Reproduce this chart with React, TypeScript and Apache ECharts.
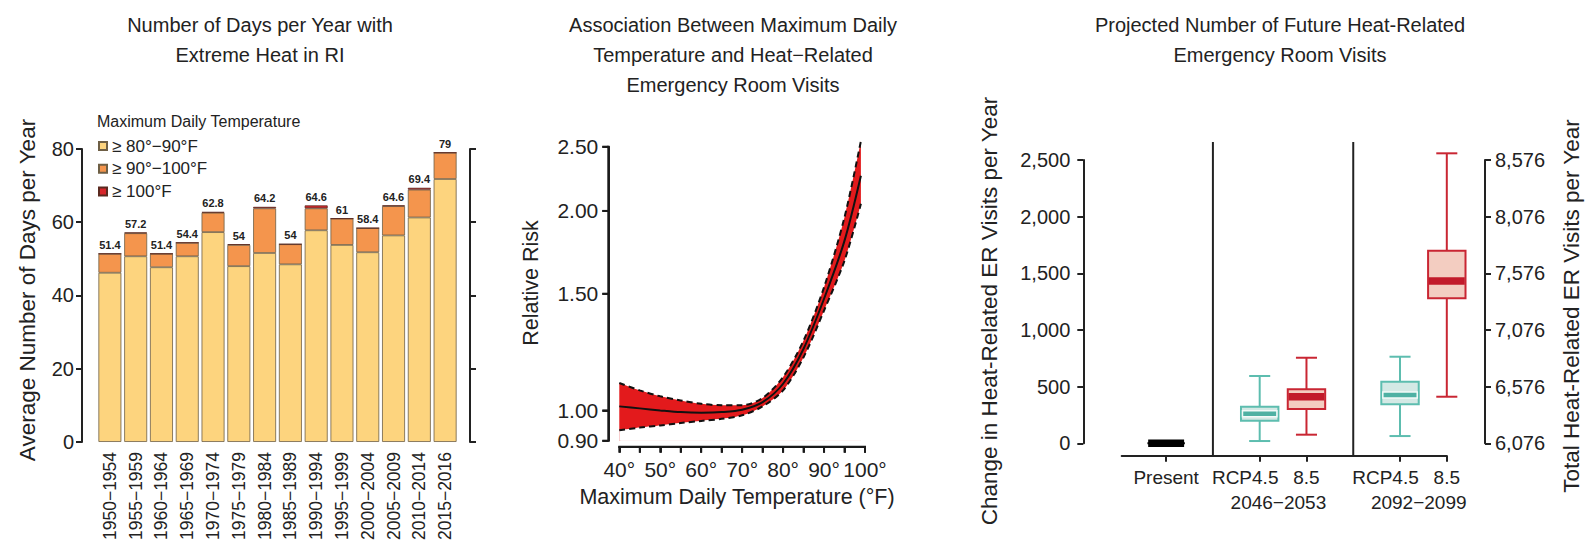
import React, { useEffect, useRef } from 'react';
import * as echarts from 'echarts';

const FONT = '"Liberation Sans", Arial, Helvetica, sans-serif';
const INK = '#222222';

// ---------- Panel 1: days per year with extreme heat ----------
const periods = [
  '1950−1954', '1955−1959', '1960−1964', '1965−1969', '1970−1974', '1975−1979', '1980−1984',
  '1985−1989', '1990−1994', '1995−1999', '2000−2004', '2005−2009', '2010−2014', '2015−2016',
];
const days80to90 = [46.2, 50.7, 47.7, 50.7, 57.3, 48.0, 51.6, 48.5, 57.8, 53.8, 51.8, 56.4, 61.3, 71.8];
const days90to100 = [5.2, 6.3, 3.7, 3.7, 5.3, 5.8, 12.2, 5.5, 6.0, 7.2, 6.6, 8.0, 7.6, 7.2];
const days100plus = [0, 0.2, 0, 0, 0.2, 0.2, 0.4, 0, 0.8, 0, 0, 0.2, 0.5, 0];
const totalLabels = ['51.4', '57.2', '51.4', '54.4', '62.8', '54', '64.2', '54', '64.6', '61', '58.4', '64.6', '69.4', '79'];
const legendNames = ['≥ 80°−90°F', '≥ 90°−100°F', '≥ 100°F'];

// ---------- Panel 2: relative risk vs max daily temperature ----------
const temps = [40, 45, 50, 55, 60, 65, 70, 75, 80, 85, 90, 95, 99];
const rrCenter = [1.014, 1.007, 1.0, 0.994, 0.992, 0.994, 1.002, 1.029, 1.097, 1.239, 1.474, 1.804, 2.26];
const rrUpper = [1.10, 1.072, 1.05, 1.035, 1.023, 1.018, 1.018, 1.044, 1.123, 1.275, 1.534, 1.957, 2.55];
const rrLower = [0.933, 0.942, 0.949, 0.957, 0.964, 0.971, 0.983, 1.014, 1.072, 1.203, 1.415, 1.683, 2.05];
const rrTicks = [0.9, 1.0, 1.5, 2.0, 2.5];
const tempTicks = [40, 45, 50, 55, 60, 65, 70, 75, 80, 85, 90, 95, 100];
const tempTickLabels = [40, 50, 60, 70, 80, 90, 100];

// ---------- Panel 3: projected ER visits ----------
const boxLabels = ['Present', 'RCP4.5', '8.5', 'RCP4.5', '8.5'];
const boxX = [0, 2, 3, 5, 6];
const boxScenario = ['present', 'rcp45', 'rcp85', 'rcp45', 'rcp85'];
const boxMin = [0, 20, 76, 64, 411];
const boxQ1 = [0, 200, 303, 344, 1279];
const boxMedian = [0, 261, 411, 426, 1432];
const boxQ3 = [0, 323, 476, 544, 1700];
const boxMax = [0, 594, 755, 764, 2559];
const periodLabels = ['2046−2053', '2092−2099'];
const periodLabelX = [2.4, 5.4];
const periodDividers = [1, 4];
const rightTickLabels = ['6,076', '6,576', '7,076', '7,576', '8,076', '8,576'];

const boxStyles: Record<string, any> = {
  present: { stroke: '#000000', fill: '#000000', median: '#000000', medianEdge: '#000000' },
  rcp45: { stroke: '#5dbdaf', fill: '#d4e9e5', median: '#4fb1a3', medianEdge: '#f2faf8' },
  rcp85: { stroke: '#c92633', fill: '#f3cdc1', median: '#c21b2b', medianEdge: '#c21b2b' },
};

const RR_MIN = Math.log(rrTicks[0]);
const RR_MAX = Math.log(rrTicks[rrTicks.length - 1]);
const T_MIN = tempTicks[0];
const T_MAX = tempTicks[tempTicks.length - 1];

const mkAxisLine = () => ({ show: true, onZero: false, lineStyle: { color: INK, width: 2 } });
const mkTick = (extra: any = {}) => ({ show: true, inside: false, length: 6, lineStyle: { color: INK, width: 2 }, ...extra });
const lbl = (size: number, extra: any = {}) => ({ color: INK, fontFamily: FONT, fontSize: size, ...extra });

const vText = (text: string, x: number, y: number, size: number) => ({
  type: 'text',
  x,
  y,
  rotation: Math.PI / 2,
  style: { text, x: 0, y: 0, align: 'center', verticalAlign: 'middle', fontSize: size, fontFamily: FONT, fill: INK },
});
const hText = (text: string, x: number, y: number, size: number, align = 'center') => ({
  type: 'text',
  x,
  y,
  style: { text, x: 0, y: 0, align, verticalAlign: 'middle', fontSize: size, fontFamily: FONT, fill: INK },
});

const baseGraphics = [
  vText('Average Number of Days per Year', 27, 290, 22.5),
  hText('Maximum Daily Temperature', 97, 121, 16, 'left'),
  vText('Relative Risk', 531, 283, 21.5),
  hText('Maximum Daily Temperature (°F)', 737, 497, 21.5),
  vText('Change in Heat-Related ER Visits per Year', 989, 311, 22.5),
  vText('Total Heat-Related ER Visits per Year', 1571, 306, 22.5),
];

function buildOption() {
  const barBase = {
    type: 'bar',
    stack: 'days',
    xAxisIndex: 0,
    yAxisIndex: 0,
    barCategoryGap: '11%',
  };

  const rrLine = (name: string, values: number[], extra: any) => ({
    type: 'line', name, xAxisIndex: 1, yAxisIndex: 2,
    data: temps.map((t, i) => [t, Math.log(values[i])]),
    symbol: 'none', smooth: 0.3, clip: false,
    ...extra,
  });

  return {
    animation: false,
    backgroundColor: '#ffffff',
    textStyle: { fontFamily: FONT },
    title: [
      {
        text: 'Number of Days per Year with\nExtreme Heat in RI',
        left: 255, top: 5, textAlign: 'center',
        textStyle: { fontFamily: FONT, fontSize: 20, fontWeight: 'normal', color: INK, lineHeight: 30 },
      },
      {
        text: 'Association Between Maximum Daily\nTemperature and Heat−Related\nEmergency Room Visits',
        left: 728, top: 5, textAlign: 'center',
        textStyle: { fontFamily: FONT, fontSize: 20, fontWeight: 'normal', color: INK, lineHeight: 30 },
      },
      {
        text: 'Projected Number of Future Heat-Related\nEmergency Room Visits',
        left: 1275, top: 5, textAlign: 'center',
        textStyle: { fontFamily: FONT, fontSize: 20, fontWeight: 'normal', color: INK, lineHeight: 30 },
      },
    ],
    legend: {
      data: legendNames,
      orient: 'vertical',
      left: 98,
      top: 137,
      padding: 0,
      icon: 'rect',
      itemWidth: 8,
      itemHeight: 8,
      itemGap: 4.7,
      itemTextGap: 15,
      selectedMode: false,
      textStyle: { fontFamily: FONT, fontSize: 17, color: INK, lineHeight: 18 },
    },
    grid: [
      { left: 97, top: 149, width: 361, height: 301 },
      { left: 619.3, top: 146.7, width: 245.7, height: 294 },
      { left: 1121.7, top: 160, width: 325.1, height: 283.3 },
    ],
    xAxis: [
      {
        type: 'category', gridIndex: 0, data: periods, position: 'bottom',
        axisLine: { show: false }, axisTick: { show: false },
        axisLabel: lbl(17.5, { rotate: 90, interval: 0, margin: 10 }),
      },
      {
        type: 'value', gridIndex: 1, min: T_MIN, max: T_MAX, interval: 5, offset: 6, position: 'bottom',
        axisLine: mkAxisLine(), axisTick: mkTick(), splitLine: { show: false },
        axisLabel: lbl(21, { margin: 12, customValues: tempTickLabels, formatter: (v: number) => `${v}°` }),
      },
      {
        type: 'value', gridIndex: 2, min: -0.95, max: 6, offset: 12.4, position: 'bottom',
        axisLine: mkAxisLine(), splitLine: { show: false },
        axisTick: mkTick({ customValues: boxX }),
        axisLabel: {
          color: INK, fontFamily: FONT, fontSize: 19, margin: 12, customValues: boxX,
          formatter: (v: number) => {
            const t = boxLabels[boxX.indexOf(v)] ?? '';
            return t.startsWith('RCP') ? `{shift|${t}}` : t;
          },
          rich: { shift: { color: INK, fontFamily: FONT, fontSize: 19, padding: [0, 29, 0, 0] } },
        },
      },
      {
        type: 'value', gridIndex: 2, min: -0.95, max: 6, offset: 12.4, position: 'bottom',
        axisLine: { show: false }, axisTick: { show: false }, splitLine: { show: false },
        axisLabel: {
          color: INK, fontFamily: FONT, fontSize: 19, margin: 37, customValues: periodLabelX,
          formatter: (v: number) => periodLabels[periodLabelX.indexOf(v)] ?? '',
        },
      },
    ],
    yAxis: [
      {
        type: 'value', gridIndex: 0, min: 0, max: 80, interval: 20, offset: 15, position: 'left',
        axisLine: mkAxisLine(), axisTick: mkTick(), splitLine: { show: false },
        axisLabel: lbl(20, { margin: 8 }),
      },
      {
        type: 'value', gridIndex: 0, min: 0, max: 80, interval: 20, offset: 12, position: 'right',
        axisLine: mkAxisLine(), axisTick: mkTick(), splitLine: { show: false },
        axisLabel: { show: false },
      },
      {
        type: 'value', gridIndex: 1, min: RR_MIN, max: RR_MAX, offset: 11, position: 'left',
        axisLine: mkAxisLine(), splitLine: { show: false },
        axisTick: mkTick({ customValues: rrTicks.map((v) => Math.log(v)) }),
        axisLabel: lbl(21, {
          margin: 10, customValues: rrTicks.map((v) => Math.log(v)),
          formatter: (v: number) => Math.exp(v).toFixed(2),
        }),
      },
      {
        type: 'value', gridIndex: 2, min: 0, max: 2500, interval: 500, offset: 38.4, position: 'left',
        axisLine: mkAxisLine(), axisTick: mkTick(), splitLine: { show: false },
        axisLabel: lbl(20, { margin: 13, formatter: (v: number) => v.toLocaleString('en-US') }),
      },
      {
        type: 'value', gridIndex: 2, min: 0, max: 2500, interval: 500, offset: 38.2, position: 'right',
        axisLine: mkAxisLine(), axisTick: mkTick(), splitLine: { show: false },
        axisLabel: lbl(20, { margin: 10, formatter: (v: number) => rightTickLabels[Math.round(v / 500)] }),
      },
    ],
    series: [
      {
        ...barBase, name: legendNames[0], data: days80to90,
        itemStyle: { color: '#fdd47e', borderColor: '#6e5f45', borderWidth: 0.8 },
      },
      {
        ...barBase, name: legendNames[1], data: days90to100,
        itemStyle: { color: '#f4954d', borderColor: '#6e5f45', borderWidth: 0.8 },
      },
      {
        ...barBase, name: legendNames[2], data: days100plus,
        itemStyle: { color: '#d7262b', borderColor: '#5a2a20', borderWidth: 0.8 },
        label: {
          show: true, position: 'top', distance: 3,
          formatter: (p: any) => totalLabels[p.dataIndex],
          fontFamily: FONT, fontSize: 11, fontWeight: 'bold', color: INK,
        },
      },
      // confidence band: red fill under the upper bound, white fill under the lower bound
      rrLine('ciUpperFill', rrUpper, {
        lineStyle: { opacity: 0 }, areaStyle: { color: '#e31a1c', opacity: 1, origin: 'start' },
      }),
      rrLine('ciLowerFill', rrLower, {
        lineStyle: { opacity: 0 },
        areaStyle: { color: '#ffffff', opacity: 1, origin: 'start', shadowColor: '#ffffff', shadowBlur: 0, shadowOffsetX: 1.2 },
      }),
      rrLine('upper', rrUpper, { lineStyle: { color: '#111', width: 2, type: [6, 4] } }),
      rrLine('lower', rrLower, { lineStyle: { color: '#111', width: 2, type: [6, 4] } }),
      rrLine('center', rrCenter, { lineStyle: { color: '#111', width: 2 } }),
      {
        type: 'custom', name: 'dividers', xAxisIndex: 2, yAxisIndex: 3, clip: false,
        data: periodDividers.map((x) => [x, 0]),
        renderItem: (params: any, api: any) => {
          const px = api.coord([api.value(0), 0])[0];
          const cs = params.coordSys;
          return {
            type: 'line',
            shape: { x1: px, y1: cs.y - 18, x2: px, y2: cs.y + cs.height + 12.4 },
            style: { stroke: INK, lineWidth: 2 },
          };
        },
      },
      {
        type: 'custom', name: 'boxes', xAxisIndex: 2, yAxisIndex: 3, clip: false,
        data: boxX.map((x, i) => [x, boxMin[i], boxQ1[i], boxMedian[i], boxQ3[i], boxMax[i]]),
        encode: { x: 0, y: [1, 2, 3, 4, 5] },
        renderItem: (params: any, api: any) => {
          const st = boxStyles[boxScenario[params.dataIndex]];
          const x = api.value(0);
          const cMin = api.coord([x, api.value(1)]);
          const cQ1 = api.coord([x, api.value(2)]);
          const cMed = api.coord([x, api.value(3)]);
          const cQ3 = api.coord([x, api.value(4)]);
          const cMax = api.coord([x, api.value(5)]);
          const halfW = api.size([0.8, 0])[0] / 2;
          const capHalf = api.size([0.45, 0])[0] / 2;
          const cx = cMed[0];
          const ln = { stroke: st.stroke, lineWidth: 2 };
          return {
            type: 'group',
            children: [
              { type: 'line', shape: { x1: cx, y1: cMax[1], x2: cx, y2: cQ3[1] }, style: ln },
              { type: 'line', shape: { x1: cx, y1: cQ1[1], x2: cx, y2: cMin[1] }, style: ln },
              { type: 'line', shape: { x1: cx - capHalf, y1: cMax[1], x2: cx + capHalf, y2: cMax[1] }, style: ln },
              { type: 'line', shape: { x1: cx - capHalf, y1: cMin[1], x2: cx + capHalf, y2: cMin[1] }, style: ln },
              {
                type: 'rect',
                shape: { x: cx - halfW, y: cQ3[1], width: 2 * halfW, height: cQ1[1] - cQ3[1] },
                style: { fill: st.fill, stroke: st.stroke, lineWidth: 2 },
              },
              {
                type: 'rect',
                shape: { x: cx - halfW + 1.5, y: cMed[1] - 3, width: 2 * halfW - 3, height: 6 },
                style: { fill: st.median, stroke: st.medianEdge, lineWidth: 1.5 },
              },
            ],
          };
        },
      },
    ],
    graphic: baseGraphics,
  };
}

// Panel-2 axis lines and ticks, positioned with the chart's own scales (convertToPixel).
function panel2AxisGraphics(chart: any) {
  const toPx = (x: number, y: number) => chart.convertToPixel({ gridIndex: 1 }, [x, y]);
  const [xl, yb0] = toPx(T_MIN, RR_MIN);
  const [xr, yt] = toPx(T_MAX, RR_MAX);
  const yb = yb0 + 6;
  const xa = xl - 11;
  const st = { stroke: '#1a1a1a', lineWidth: 2 };
  const els: any[] = [
    { type: 'line', z: 100, shape: { x1: xl - 1, y1: yb, x2: xr + 1, y2: yb }, style: { ...st } },
    { type: 'line', z: 100, shape: { x1: xa, y1: yt - 1, x2: xa, y2: yb0 + 1 }, style: { ...st } },
  ];
  tempTicks.forEach((t) => {
    const px = toPx(t, RR_MIN)[0];
    els.push({ type: 'line', z: 100, shape: { x1: px, y1: yb, x2: px, y2: yb + 6 }, style: { ...st } });
  });
  rrTicks.forEach((v) => {
    const py = toPx(T_MIN, Math.log(v))[1];
    els.push({ type: 'line', z: 100, shape: { x1: xa, y1: py, x2: xa - 6, y2: py }, style: { ...st } });
  });
  return els;
}

export default function App() {
  const ref = useRef<HTMLDivElement>(null);
  useEffect(() => {
    if (!ref.current) return;
    const chart = echarts.init(ref.current, null, { renderer: 'svg' });
    chart.setOption(buildOption() as any);
    chart.setOption({ graphic: [...baseGraphics, ...panel2AxisGraphics(chart)] } as any);
    return () => chart.dispose();
  }, []);
  return (
    <div
      ref={ref}
      style={{ position: 'fixed', left: 0, top: 0, width: 1589, height: 543, background: '#ffffff' }}
    />
  );
}
